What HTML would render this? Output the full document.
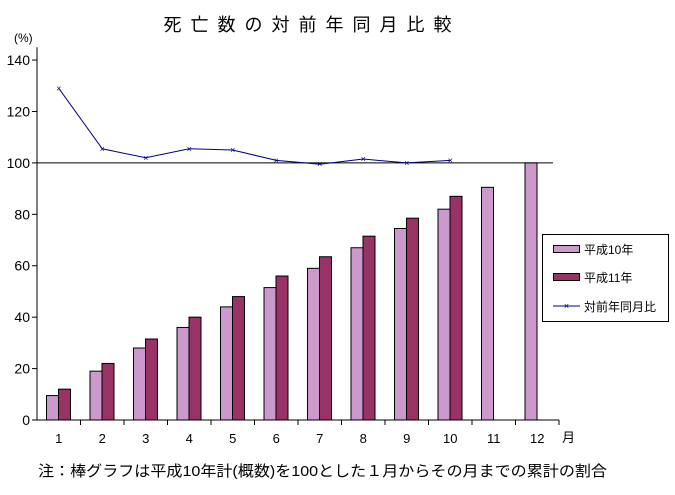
<!DOCTYPE html>
<html><head><meta charset="utf-8"><style>
body{margin:0;background:#fff;width:675px;height:490px;overflow:hidden}
text{font-family:"Liberation Sans","Noto Sans CJK JP",sans-serif;fill:#000}
</style></head><body>
<svg id="chart" width="675" height="490">
<text x="312" y="31" font-size="18" text-anchor="middle" letter-spacing="9">死亡数の対前年同月比較</text>
<text x="14" y="42" font-size="12">(%)</text>
<text x="562" y="442" font-size="13">月</text>
<text x="38" y="476" font-size="15" textLength="569" lengthAdjust="spacingAndGlyphs">注：棒グラフは平成10年計(概数)を100とした１月からその月までの累計の割合</text>
<g id="axes"></g><g id="bars"></g><g id="line"></g>
<g>
<rect x="542.5" y="234.5" width="126" height="87" fill="#fff" stroke="#000"/>
<rect x="553.5" y="245.5" width="26" height="7" fill="#cc99cc" stroke="#000"/>
<text x="584" y="254" font-size="12">平成10年</text>
<rect x="553.5" y="273.5" width="26" height="7" fill="#993366" stroke="#000"/>
<text x="584" y="282" font-size="12">平成11年</text>
<line x1="553" y1="306" x2="580" y2="306" stroke="#000080"/>
<text x="566.5" y="309" font-size="9" text-anchor="middle" style="fill:#000080">×</text>
<text x="584" y="311" font-size="12">対前年同月比</text>
</g>
</svg>
<script>
const categories=["1","2","3","4","5","6","7","8","9","10","11","12"];
const h10=[9.5,19,28,36,44,51.5,59,67,74.5,82,90.5,100];
const h11=[12,22,31.5,40,48,56,63.5,71.5,78.5,87];
const ratio=[129,105.5,102,105.5,105,101,99.5,101.5,100,101];
const yTicks=[0,20,40,60,80,100,120,140];
const NS="http://www.w3.org/2000/svg";
const x0=37,cw=43.5,y0=420,ppu=2.571;
const X=i=>x0+i*cw;
const Y=v=>y0-v*ppu;
function mk(p,tag,a){const e=document.createElementNS(NS,tag);for(const k in a)e.setAttribute(k,a[k]);document.getElementById(p).appendChild(e);return e;}
let e=mk('axes','line',{x1:x0,y1:Y(145),x2:x0,y2:y0,stroke:'#000'});


e=mk('axes','line',{x1:x0,y1:y0,x2:X(12),y2:y0,stroke:'#000'});


e=mk('axes','line',{x1:x0,y1:Y(100),x2:553,y2:Y(100),stroke:'#000'});


yTicks.forEach(v=>{
 mk('axes','line',{x1:x0-5,y1:Y(v),x2:x0,y2:Y(v),stroke:'#000'});
 const t=mk('axes','text',{x:x0-7,y:Y(v)+5,'font-size':14,'text-anchor':'end'});
 t.textContent=v;
 
 
});
categories.forEach((c,i)=>{
 mk('axes','line',{x1:X(i+1),y1:y0,x2:X(i+1),y2:y0+5,stroke:'#000'});
 const t=mk('axes','text',{x:X(i)+cw/2,y:y0+23,'font-size':13,'text-anchor':'middle'});
 t.textContent=c;
 
 
});
h10.forEach((v,i)=>{
 const b=mk('bars','rect',{x:X(i)+9.5,y:Y(v),width:12,height:v*ppu,fill:'#cc99cc',stroke:'#000'});
 
 
});
h11.forEach((v,i)=>{
 const b=mk('bars','rect',{x:X(i)+21.5,y:Y(v),width:12,height:v*ppu,fill:'#993366',stroke:'#000'});
 
 
});
const pts=ratio.map((v,i)=>(X(i)+cw/2)+','+Y(v)).join(' ');
e=mk('line','polyline',{points:pts,fill:'none',stroke:'#000080','stroke-width':1});


ratio.forEach((v,i)=>{
 const t=mk('line','text',{x:X(i)+cw/2,y:Y(v)+3,'font-size':9,'text-anchor':'middle',style:'fill:#000080'});
 t.textContent='×';
 
 
});
</script>
</body></html>
